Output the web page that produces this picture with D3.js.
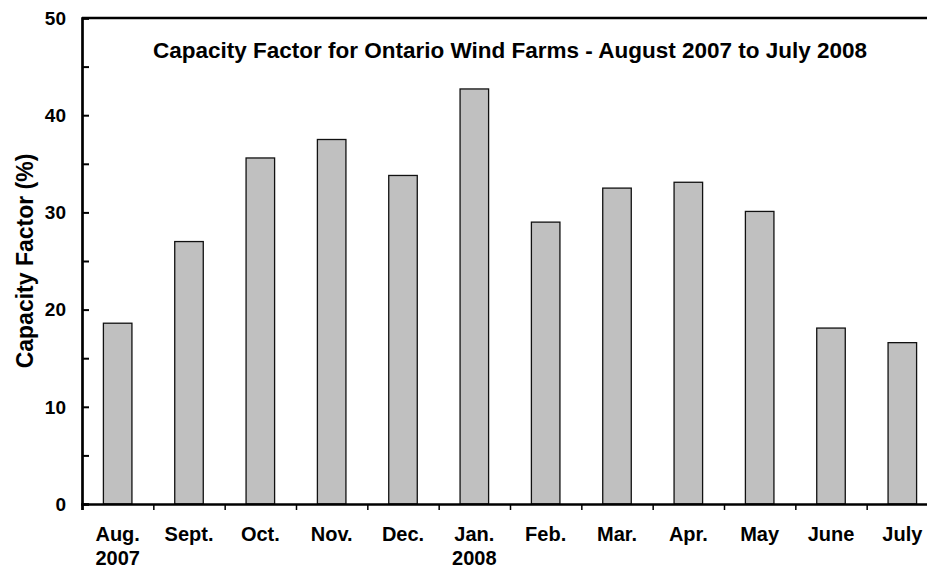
<!DOCTYPE html>
<html>
<head>
<meta charset="utf-8">
<script src="https://cdn.jsdelivr.net/npm/d3@7"></script>
<style>
  body { margin: 0; background: #fff; }
  text { font-family: "Liberation Sans", Arial, sans-serif; font-weight: bold; fill: #000; }
</style>
</head>
<body>
<svg width="927" height="569"></svg>
<script>
const months = ["Aug.", "Sept.", "Oct.", "Nov.", "Dec.", "Jan.", "Feb.", "Mar.", "Apr.", "May", "June", "July"];
const years = ["2007", "", "", "", "", "2008", "", "", "", "", "", ""];
const capacity = [18.6, 27.0, 35.6, 37.5, 33.8, 42.7, 29.0, 32.5, 33.1, 30.1, 18.1, 16.6];
const yTicks = [0, 10, 20, 30, 40, 50];

const svg = d3.select("svg"),
      margin = {top: 18, right: -11, bottom: 65, left: 82},
      width = +svg.attr("width") - margin.left - margin.right,
      height = +svg.attr("height") - margin.top - margin.bottom;

const g = svg.append("g").attr("transform", `translate(${margin.left},${margin.top})`);

const x = d3.scaleBand()
  .domain(months)
  .range([0, width])
  .padding(0);

const y = d3.scaleLinear()
  .domain([0, 50])
  .range([height, 0]);

// bars, 40% of each slot, centred
const bw = x.bandwidth() * 0.4;
g.selectAll("rect.bar")
  .data(capacity)
  .enter().append("rect")
    .attr("class", "bar")
    .attr("x", (d, i) => x(months[i]) + (x.bandwidth() - bw) / 2)
    .attr("y", d => y(d))
    .attr("width", bw)
    .attr("height", d => height - y(d))
    .attr("fill", "#c0c0c0")
    .attr("stroke", "#111")
    .attr("stroke-width", 1.3);

// frame: top line
g.append("line")
  .attr("x1", 0).attr("x2", width)
  .attr("y1", 0).attr("y2", 0)
  .attr("stroke", "#000").attr("stroke-width", 2.7);

// left axis, ticks pointing inward every 5
const yAxis = g.append("g")
  .call(d3.axisLeft(y).tickValues(d3.range(0, 51, 5)).tickSize(-7).tickFormat(""));
yAxis.select(".domain").attr("stroke-width", 2.7);
yAxis.selectAll(".tick line").attr("stroke-width", 2);

g.selectAll("text.ylab")
  .data(yTicks)
  .enter().append("text")
    .attr("class", "ylab")
    .attr("x", -16)
    .attr("y", d => y(d))
    .attr("dy", "0.36em")
    .attr("text-anchor", "end")
    .style("font-size", "19px")
    .text(d => d);

// bottom axis, ticks at category boundaries
const xAxis = g.append("g")
  .attr("transform", `translate(0,${height})`)
  .call(d3.axisBottom(d3.scaleLinear().domain([0, 12]).range([0, width]))
    .tickValues(d3.range(0, 13)).tickSize(6).tickFormat(""));
xAxis.select(".domain").attr("stroke-width", 2.7);
xAxis.selectAll(".tick line").attr("stroke-width", 1.5);

g.selectAll("text.mon")
  .data(months)
  .enter().append("text")
    .attr("class", "mon")
    .attr("x", d => x(d) + x.bandwidth() / 2)
    .attr("y", height + 37)
    .attr("text-anchor", "middle")
    .style("font-size", "20px")
    .text(d => d);

g.selectAll("text.yr")
  .data(years)
  .enter().append("text")
    .attr("class", "yr")
    .attr("x", (d, i) => x(months[i]) + x.bandwidth() / 2)
    .attr("y", height + 61)
    .attr("text-anchor", "middle")
    .style("font-size", "20px")
    .text(d => d);

// title
g.append("text")
  .attr("x", width / 2)
  .attr("y", 40)
  .attr("text-anchor", "middle")
  .style("font-size", "22.5px")
  .text("Capacity Factor for Ontario Wind Farms - August 2007 to July 2008");

// y label
svg.append("text")
  .attr("transform", `translate(33,${margin.top + height / 2}) rotate(-90)`)
  .attr("text-anchor", "middle")
  .style("font-size", "23px")
  .text("Capacity Factor (%)");
</script>
</body>
</html>
